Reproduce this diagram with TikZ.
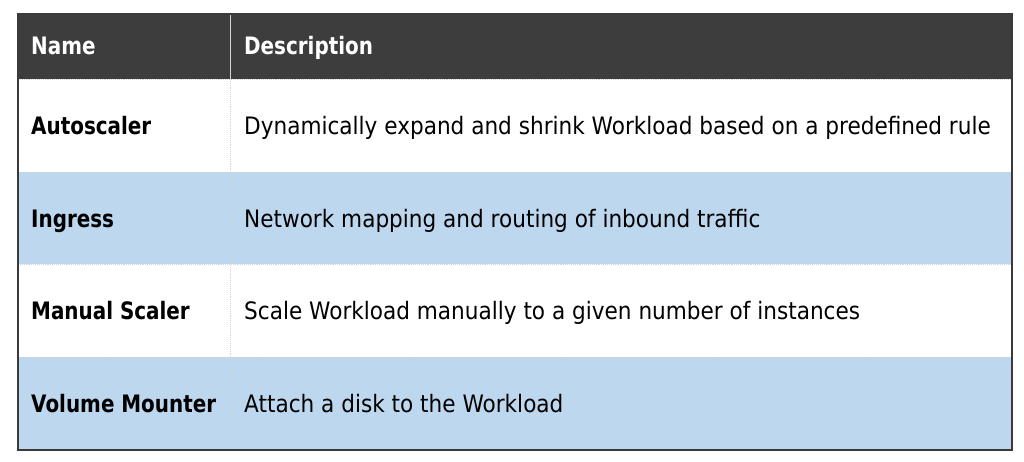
\documentclass[tikz,border=0pt]{standalone}
\usepackage{fontspec}
\setmainfont{DejaVu Sans}[FakeStretch=0.9, BoldFeatures={FakeStretch=0.83}]
\definecolor{hdr}{HTML}{3D3D3D}
\definecolor{rowblue}{HTML}{BDD7EE}
\definecolor{sep}{HTML}{D4D4D4}
\definecolor{frame}{HTML}{3A3A3A}
\begin{document}
\begin{tikzpicture}[x=1pt,y=1pt,
  cell/.style={anchor=base west, inner sep=0pt, font=\fontsize{24}{28}\selectfont},
  namecell/.style={cell, font=\fontsize{24}{28}\selectfont\bfseries},
  hcell/.style={namecell, text=white},
  sepline/.style={draw=sep, line width=0.9pt, densely dotted}]
\useasboundingbox (0,0) rectangle (1024,462);
\fill[white] (0,0) rectangle (1024,462);
% rows (y = 462 - pixel y)
\fill[hdr] (18,448) rectangle (1012,383);
\fill[white] (18,383) rectangle (1012,290);
\fill[rowblue] (18,290) rectangle (1012,197.5);
\fill[white] (18,197.5) rectangle (1012,105);
\fill[rowblue] (18,105) rectangle (1012,12);
% separators
\draw[sepline] (18,383) -- (1012,383);
\draw[sepline] (18,290) -- (1012,290);
\draw[sepline] (18,197.5) -- (1012,197.5);
\draw[sepline] (18,105) -- (1012,105);
\draw[draw=sep, line width=1pt] (230,448) -- (230,383);
\draw[sepline] (230,383) -- (230,12);
% frame
\draw[frame, line width=1.6pt] (18,12) rectangle (1012,448);
% header
\node[hcell] (hname) at (31,407) {Name};
\node[hcell] (hdesc) at (244,407) {Description};
% body
\node[namecell] (n1) at (31,327) {Autoscaler};
\node[cell] (d1) at (244,327) {Dynamically expand and shrink Workload based on a predefined rule};
\node[namecell] (n2) at (31,234.5) {Ingress};
\node[cell] (d2) at (244,234.5) {Network mapping and routing of inbound traffic};
\node[namecell] (n3) at (31,142) {Manual Scaler};
\node[cell] (d3) at (244,142) {Scale Workload manually to a given number of instances};
\node[namecell] (n4) at (31,49) {Volume Mounter};
\node[cell] (d4) at (244,49) {Attach a disk to the Workload};
\end{tikzpicture}
\end{document}
